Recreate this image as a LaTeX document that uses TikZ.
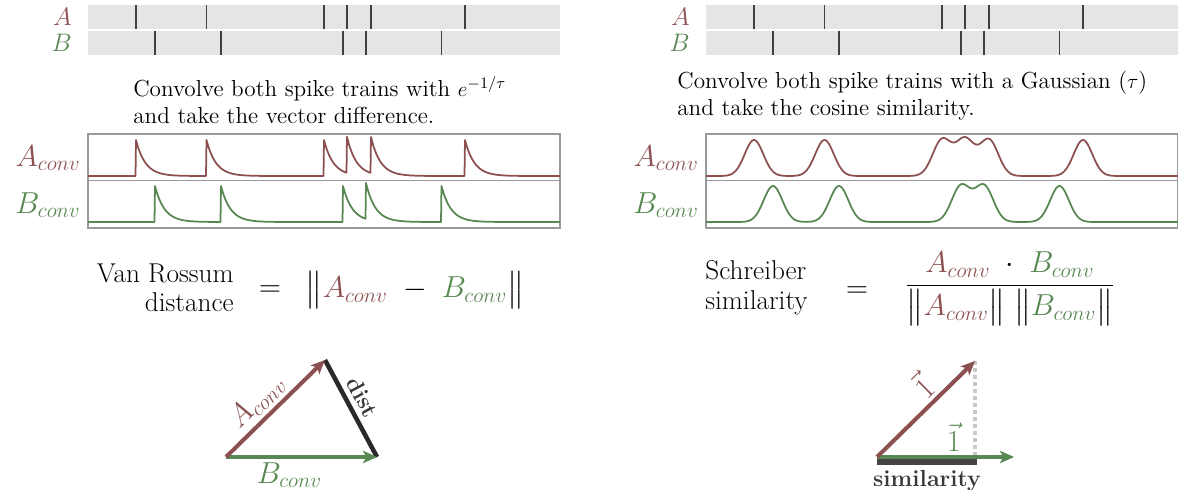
\documentclass[tikz,border=0pt]{standalone}
\usepackage{amsmath,amssymb}
\usepackage{xcolor}
\usepackage{tikz}
\usetikzlibrary{arrows.meta}
\definecolor{ConvRed}{RGB}{140,80,80}
\definecolor{ConvGreen}{RGB}{88,136,82}
\definecolor{TrainGray}{RGB}{229,229,229}
\definecolor{DistBlack}{RGB}{42,42,42}
\tikzset{
  trainbar/.style={fill=TrainGray, draw=none},
  spike/.style={draw=black!75, line width=0.6pt},
  convbox/.style={draw=black!40, line width=0.7pt},
  trace/.style={line width=1pt, line join=round},
  trainlab/.style={anchor=east, font=\Large, inner sep=0pt},
  convlab/.style={anchor=base east, font=\LARGE, inner sep=0pt},
  desc/.style={anchor=west, align=left, font=\fontsize{13.2}{15.4}\selectfont, inner sep=0pt},
  formtxt/.style={font=\fontsize{15.5}{16.8}\selectfont, inner sep=0pt},
  vecarr/.style={-{Stealth[length=8pt, width=7pt, inset=2pt]}, line width=2.3pt},
  veclab/.style={font=\LARGE, inner sep=2pt},
  boldlab/.style={font=\fontsize{13.2}{15}\selectfont\bfseries, text=black!78, inner sep=2pt},
  declare function={
    expk(\x,\s)=(\x>=\s)*exp(0-min(max(\x-\s,0),100)/9.4);
    gaussk(\x,\s)=exp(0-pow(min(abs(\x-\s),40),2)/173);
    expA(\x)=expk(\x,136)+expk(\x,206.5)+expk(\x,324)+expk(\x,347)+expk(\x,371)+expk(\x,465);
    expB(\x)=expk(\x,155)+expk(\x,221)+expk(\x,343)+expk(\x,366)+expk(\x,441.5);
    gauA(\x)=gaussk(\x,754)+gaussk(\x,824.5)+gaussk(\x,942)+gaussk(\x,965)+gaussk(\x,989)+gaussk(\x,1083);
    gauB(\x)=gaussk(\x,773)+gaussk(\x,839)+gaussk(\x,961)+gaussk(\x,984)+gaussk(\x,1059.5);
  },
}

\begin{document}
\begin{tikzpicture}[>=Stealth, x=0.02cm, y=-0.02cm]
  \useasboundingbox (0,0) rectangle (1178,490);
  % spike trains, same in both panels
  \foreach \dx in {0,618} {
    \fill[trainbar] ({88+\dx},5) rectangle ({560+\dx},29);
    \fill[trainbar] ({88+\dx},31) rectangle ({560+\dx},55);
    \foreach \s in {136,206.5,324,347,371,465}
      \draw[spike] ({\s+\dx},5) -- ({\s+\dx},29);
    \foreach \s in {155,221,343,366,441.5}
      \draw[spike] ({\s+\dx},31) -- ({\s+\dx},55);
    \node[trainlab, text=ConvRed] (trA-\dx) at ({72+\dx},17) {$A$};
    \node[trainlab, text=ConvGreen] (trB-\dx) at ({72+\dx},43) {$B$};
    \draw[convbox] ({88+\dx},134) rectangle ({560+\dx},228);
    \draw[convbox] ({88+\dx},180.5) -- ({560+\dx},180.5);
    \node[convlab, text=ConvRed] (cvA-\dx) at ({81+\dx},166) {$A_{conv}$};
    \node[convlab, text=ConvGreen] (cvB-\dx) at ({81+\dx},213) {$B_{conv}$};
  }
  \node[desc] (descL) at (133,100) {Convolve both spike trains with $e^{-1/\tau}$\\and take the vector difference.};
  \node[desc] (descR) at (677,96) {Convolve both spike trains with a Gaussian ($\tau$)\\and take the cosine similarity.};

  % convolved traces
  \draw[trace, ConvRed] plot[domain=88:560, samples=945] (\x, {176-36*expA(\x)});
  \draw[trace, ConvGreen] plot[domain=88:560, samples=945] (\x, {222-36*expB(\x)});
  \draw[trace, ConvRed] plot[domain=706:1178, samples=400] (\x, {176-36*gauA(\x)});
  \draw[trace, ConvGreen] plot[domain=706:1178, samples=400] (\x, {222-36*gauB(\x)});

  % formulas
  \node[formtxt, align=right, anchor=east] (vrName) at (234,288) {Van Rossum\\distance};
  \node[font=\LARGE] (vrEq) at (270,291) {$=$};
  \node[font=\LARGE] (vrVal) at (415,290)
    {$\big\|\textcolor{ConvRed}{A_{conv}}\;-\;\textcolor{ConvGreen}{B_{conv}}\big\|$};
  \node[formtxt, align=left, anchor=west] (scName) at (705,288) {Schreiber\\similarity};
  \node[font=\LARGE] (scEq) at (857,292) {$=$};
  \node[font=\LARGE] (scVal) at (1010,289)
    {$\dfrac{\textcolor{ConvRed}{A_{conv}}\;\cdot\;\textcolor{ConvGreen}{B_{conv}}}
      {\big\|\textcolor{ConvRed}{A_{conv}}\big\|\;\big\|\textcolor{ConvGreen}{B_{conv}}\big\|}$};

  % distance triangle
  \coordinate (oL) at (226,457);
  \coordinate (aL) at (325,360);
  \coordinate (bL) at (377,457);
  \draw[DistBlack, line width=2.6pt] (aL) -- node[sloped, above=1pt, pos=0.46, boldlab] (distLab) {dist} (bL);
  \draw[vecarr, ConvGreen] (oL) -- node[below, pos=0.42, veclab] (bvLab) {$B_{conv}$} (bL);
  \draw[vecarr, ConvRed] (oL) -- node[sloped, above, pos=0.44, veclab] (avLab) {$A_{conv}$} (aL);

  % cosine picture
  \coordinate (oR) at (877,457);
  \coordinate (aR) at (975,361);
  \coordinate (fR) at (975,457);
  \coordinate (bR) at (1014,457);
  \coordinate (sR) at (877,462);
  \coordinate (tR) at (977,462);
  \draw[black!22, line width=2.8pt, dash pattern=on 2pt off 2pt] (aR) -- (fR);
  \draw[DistBlack!88, line width=3.2pt] (sR) -- node[below=1pt, boldlab] (simLab) {similarity} (tR);
  \draw[vecarr, ConvGreen] (oR) -- node[above, pos=0.56, veclab] (oneB) {$\vec{1}$} (bR);
  \draw[vecarr, ConvRed] (oR) -- node[sloped, above, pos=0.6, veclab] (oneA) {$\vec{1}$} (aR);
\end{tikzpicture}
\end{document}
